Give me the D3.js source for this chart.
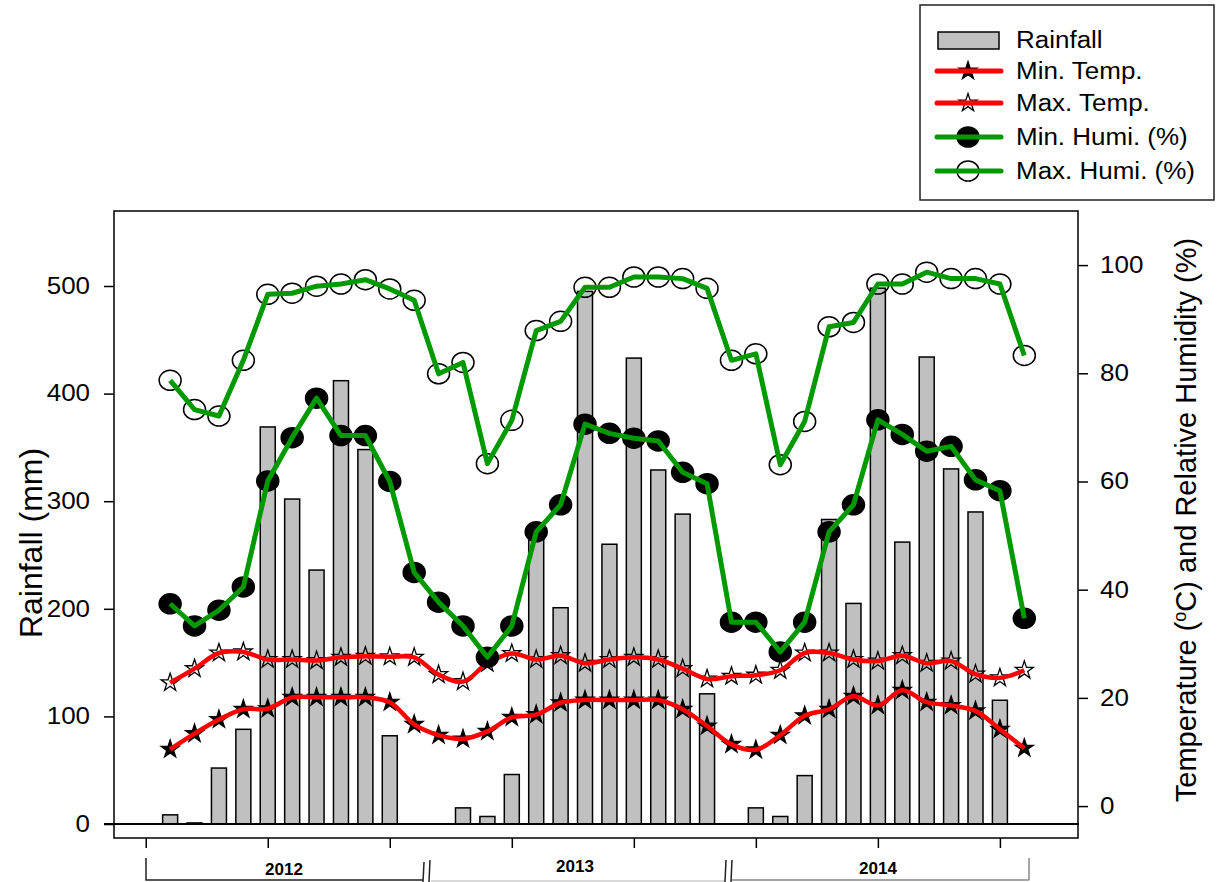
<!DOCTYPE html>
<html>
<head>
<meta charset="utf-8">
<script src="https://cdn.jsdelivr.net/npm/d3@7"></script>
<style>
  body { margin: 0; background: #fff; }
  text { font-family: "Liberation Sans", Arial, sans-serif; fill: #000; }
</style>
</head>
<body>
<div id="chart"></div>
<script>
const w = 1217;
const h = 882;

// monthly data, Jan 2012 .. Dec 2014
const months = d3.range(1, 37);
const rainfall = [8.5, 1, 52, 88, 369, 302, 236, 412, 348, 82, 0, 0,
                  15, 7, 46, 268, 201, 495, 260, 433, 329, 288, 121, 0,
                  15, 7, 45, 283, 205, 498, 262, 434, 330, 290, 115, 0];
const minTemp = [10.5, 13.4, 16.0, 17.9, 18.0, 20.1, 20.1, 20.1, 20.1, 19.2, 15.1, 13.1,
                 12.4, 13.8, 16.4, 16.9, 19.1, 19.6, 19.6, 19.6, 19.6, 17.9, 14.8, 11.4,
                 10.4, 13.1, 16.7, 17.9, 20.3, 18.6, 21.4, 19.2, 18.6, 17.6, 14.2, 10.7];
const maxTemp = [22.8, 25.4, 28.3, 28.5, 27.1, 27.1, 26.9, 27.5, 27.7, 27.6, 27.5, 24.3,
                 23.0, 26.4, 28.2, 27.1, 27.8, 26.4, 27.1, 27.5, 27.1, 25.4, 23.5, 24.0,
                 24.2, 25.1, 28.3, 28.3, 27.1, 26.8, 27.8, 26.4, 26.8, 24.4, 23.7, 25.1];
const minHumi = [37.4, 33.3, 36.2, 40.5, 60.1, 68.1, 75.4, 68.5, 68.5, 60.0, 43.2, 37.7,
                 33.3, 27.5, 33.3, 50.7, 55.7, 70.6, 68.9, 68.0, 67.5, 61.7, 59.6, 34.0,
                 34.0, 28.5, 34.0, 50.7, 55.7, 71.4, 68.7, 65.6, 66.5, 60.3, 58.3, 34.7];
const maxHumi = [78.7, 73.3, 72.1, 82.4, 94.6, 94.8, 96.1, 96.5, 97.3, 95.6, 93.5, 79.9,
                 82.0, 63.3, 71.3, 87.9, 89.6, 95.9, 95.9, 97.8, 97.8, 97.5, 95.7, 82.4,
                 83.6, 63.1, 71.1, 88.6, 89.4, 96.5, 96.5, 98.7, 97.5, 97.5, 96.5, 83.3];

const rainTicks = [0, 100, 200, 300, 400, 500];
const rightTicks = [0, 20, 40, 60, 80, 100];
const monthTicks = [0, 5, 10, 15, 20, 25, 30, 35];
const years = ["2012", "2013", "2014"];
const legendLabels = ["Rainfall", "Min. Temp.", "Max. Temp.", "Min. Humi. (%)", "Max. Humi. (%)"];

const plot = { left: 114, right: 1078, top: 211, bottom: 838 };
const sx = 1.13; // the source picture is a bit wider than tall
const red = "#ff0000";
const green = "#009a00";

const svg = d3.select("#chart")
  .append("svg")
  .attr("width", w)
  .attr("height", h);

const xScale = d3.scaleLinear()
  .domain([-1.3, 38.2])
  .range([plot.left, plot.right]);

const yRain = d3.scaleLinear()
  .domain([-13, 569.7])
  .range([plot.bottom, plot.top]);

const yRight = d3.scaleLinear()
  .domain([-5.9, 110])
  .range([plot.bottom, plot.top]);

// bars
svg.append("g")
  .selectAll("rect")
  .data(months.map((m, i) => [m, rainfall[i]]).filter(d => d[1] > 0))
  .enter()
  .append("rect")
  .attr("x", d => xScale(d[0]) - 7.5)
  .attr("width", 15)
  .attr("y", d => yRain(d[1]))
  .attr("height", d => yRain(0) - yRain(d[1]))
  .attr("fill", "#c0c0c0")
  .attr("stroke", "#000")
  .attr("stroke-width", 1.5);

// zero line
svg.append("line")
  .attr("x1", 104).attr("x2", plot.right + 1)
  .attr("y1", yRain(0)).attr("y2", yRain(0))
  .attr("stroke", "#000").attr("stroke-width", 2);

// frame
svg.append("rect")
  .attr("x", plot.left).attr("y", plot.top)
  .attr("width", plot.right - plot.left)
  .attr("height", plot.bottom - plot.top)
  .attr("fill", "none")
  .attr("stroke", "#000")
  .attr("stroke-width", 1.5);

const star = d3.symbol().type(d3.symbolStar).size(100);

function markers(values, kind, filled) {
  const g = svg.append("g");
  const pts = months.map((m, i) => [xScale(m), yRight(values[i])]);
  if (kind === "star") {
    g.selectAll("path").data(pts).enter().append("path")
      .attr("d", star)
      .attr("transform", d => "translate(" + d[0] + "," + d[1] + ")")
      .attr("fill", filled ? "#000" : "none")
      .attr("stroke", "#000")
      .attr("stroke-width", 1.3);
  } else {
    g.selectAll("ellipse").data(pts).enter().append("ellipse")
      .attr("cx", d => d[0]).attr("cy", d => d[1])
      .attr("rx", 11).attr("ry", 10)
      .attr("fill", filled ? "#000" : "none")
      .attr("stroke", "#000")
      .attr("stroke-width", 1.5);
  }
}

function series(values, color, width, curve) {
  const line = d3.line()
    .x((d, i) => xScale(months[i]))
    .y(d => yRight(d))
    .curve(curve);
  svg.append("path")
    .datum(values)
    .attr("d", line)
    .attr("fill", "none")
    .attr("stroke", color)
    .attr("stroke-width", width)
    .attr("stroke-linejoin", "round");
}

markers(minTemp, "star", true);
markers(maxTemp, "star", false);
series(minTemp, red, 4.5, d3.curveCatmullRom.alpha(0.5));
series(maxTemp, red, 4.5, d3.curveCatmullRom.alpha(0.5));
markers(minHumi, "circle", true);
markers(maxHumi, "circle", false);
series(minHumi, green, 5, d3.curveLinear);
series(maxHumi, green, 5, d3.curveLinear);

// axes
const yAxisL = d3.axisLeft(yRain).tickValues(rainTicks).tickSize(10).tickPadding(11.2);
const gl = svg.append("g")
  .attr("transform", "translate(" + plot.left + ",0)")
  .call(yAxisL);
gl.select(".domain").remove();

const yAxisR = d3.axisRight(yRight).tickValues(rightTicks).tickSize(10).tickPadding(9.5);
const gr = svg.append("g")
  .attr("transform", "translate(" + plot.right + ",0)")
  .call(yAxisR);
gr.select(".domain").remove();

[gl, gr].forEach(g => {
  g.selectAll("line").attr("stroke", "#000").attr("stroke-width", 1.5);
  g.selectAll("text")
    .attr("font-family", "Liberation Sans, Arial, sans-serif")
    .attr("font-size", 23)
    .attr("fill", "#000")
    .attr("transform", "scale(" + sx + ",1)");
});

const xAxis = d3.axisBottom(xScale).tickValues(monthTicks).tickSize(10).tickFormat("");
const gx = svg.append("g")
  .attr("transform", "translate(0," + plot.bottom + ")")
  .call(xAxis);
gx.select(".domain").remove();
gx.selectAll("line").attr("stroke", "#000").attr("stroke-width", 1.5);

// axis titles
svg.append("text")
  .attr("transform", "translate(42,543) rotate(-90)")
  .attr("text-anchor", "middle")
  .attr("font-size", 32)
  .text("Rainfall (mm)");

const rt = svg.append("text")
  .attr("transform", "translate(1196,520) rotate(-90)")
  .attr("text-anchor", "middle")
  .attr("font-size", 29);
rt.append("tspan").text("Temperature (");
rt.append("tspan").attr("font-size", 18).attr("baseline-shift", "super").text("o");
rt.append("tspan").text("C) and Relative Humidity (%)");

// year labels and the bracket under them
const yearX = [284, 575, 878];
const yearY = [875, 872, 874];
svg.append("g")
  .selectAll("text")
  .data(years)
  .enter()
  .append("text")
  .attr("x", (d, i) => yearX[i])
  .attr("y", (d, i) => yearY[i])
  .attr("text-anchor", "middle")
  .attr("font-weight", "bold")
  .attr("font-size", 17)
  .text(d => d);

const br = svg.append("g").attr("fill", "none").attr("stroke-width", 1.5);
br.append("path").attr("d", "M146,858 L146,880 L423,880").attr("stroke", "#222");
br.append("path").attr("d", "M431,881 L725,881").attr("stroke", "#ccc");
br.append("path").attr("d", "M731,880 L1029,880 M1029,858 L1029,880").attr("stroke", "#888");
br.append("path").attr("d", "M424,862 L423,882 M430,860 L429,882").attr("stroke", "#222");
br.append("path").attr("d", "M726,860 L725,882 M732,860 L731,882").attr("stroke", "#222");

// legend
const lg = svg.append("g");
lg.append("rect")
  .attr("x", 920).attr("y", 5)
  .attr("width", 294).attr("height", 195)
  .attr("fill", "#fff")
  .attr("stroke", "#222")
  .attr("stroke-width", 1.5);

const rowY = [40, 71, 103, 137, 171];
lg.append("rect")
  .attr("x", 938).attr("y", rowY[0] - 8)
  .attr("width", 61).attr("height", 17)
  .attr("fill", "#c0c0c0").attr("stroke", "#000").attr("stroke-width", 1.5);

[[1, "star", true, red], [2, "star", false, red], [3, "circle", true, green], [4, "circle", false, green]]
  .forEach(([k, kind, filled, color]) => {
    const y = rowY[k];
    if (kind === "star") {
      lg.append("path").attr("d", star)
        .attr("transform", "translate(968," + y + ")")
        .attr("fill", filled ? "#000" : "none")
        .attr("stroke", "#000").attr("stroke-width", 1.3);
    } else {
      lg.append("ellipse").attr("cx", 968).attr("cy", y).attr("rx", 11).attr("ry", 10)
        .attr("fill", filled ? "#000" : "none")
        .attr("stroke", "#000").attr("stroke-width", 1.5);
    }
    lg.append("line")
      .attr("x1", 937).attr("x2", 1001).attr("y1", y).attr("y2", y)
      .attr("stroke", color).attr("stroke-width", 5).attr("stroke-linecap", "round");
  });

lg.selectAll("text.lab")
  .data(legendLabels)
  .enter()
  .append("text")
  .attr("class", "lab")
  .attr("transform", (d, i) => "translate(1016," + (rowY[i] + 8) + ") scale(" + sx + ",1)")
  .attr("font-size", 23)
  .text(d => d);
</script>
</body>
</html>
